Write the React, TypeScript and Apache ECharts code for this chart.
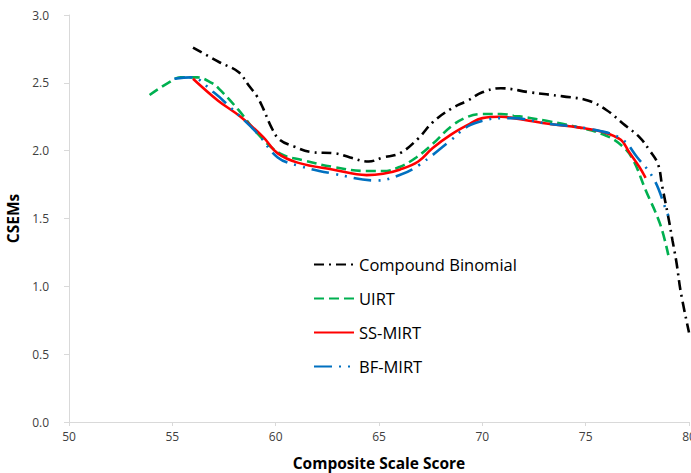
import React, { useEffect, useRef } from "react";
import * as echarts from "echarts";

const seriesNames = ["Compound Binomial", "UIRT", "SS-MIRT", "BF-MIRT"];

const compoundBinomial: [number, number][] = [
  [56.0, 2.76], [56.7, 2.7], [57.3, 2.65], [58.2, 2.58], [58.7, 2.48], [59.1, 2.4],
  [59.4, 2.31], [59.8, 2.17], [60.2, 2.08], [60.9, 2.03], [61.7, 1.99], [62.9, 1.98],
  [63.6, 1.95], [64.5, 1.92], [65.2, 1.95], [66.0, 1.98], [66.9, 2.09], [67.6, 2.21],
  [68.5, 2.31], [69.3, 2.37], [70.0, 2.43], [70.9, 2.46], [72.3, 2.43], [73.9, 2.4],
  [75.1, 2.37], [76.0, 2.3], [76.8, 2.2], [77.6, 2.1], [78.1, 2.0], [78.5, 1.9],
  [78.7, 1.74], [79.0, 1.51], [79.2, 1.34], [79.4, 1.17], [79.6, 0.96], [80.0, 0.66],
];

const uirt: [number, number][] = [
  [53.9, 2.41], [54.8, 2.5], [55.4, 2.54], [56.2, 2.54], [56.9, 2.5], [57.3, 2.45],
  [58.2, 2.3], [59.1, 2.13], [60.2, 1.98], [61.3, 1.93], [62.8, 1.88], [64.4, 1.85],
  [65.2, 1.85], [66.0, 1.88], [66.8, 1.95], [67.6, 2.05], [68.5, 2.18], [69.3, 2.25],
  [70.0, 2.27], [70.9, 2.27], [71.5, 2.26], [73.1, 2.22], [74.7, 2.17], [76.0, 2.11],
  [76.8, 2.03], [77.3, 1.93], [77.9, 1.71], [78.6, 1.46], [79.0, 1.23],
];

const ssMirt: [number, number][] = [
  [56.0, 2.53], [57.2, 2.37], [58.3, 2.25], [59.4, 2.1], [60.1, 1.98], [61.1, 1.91],
  [62.8, 1.86], [64.4, 1.82], [65.2, 1.83], [66.0, 1.86], [66.9, 1.92], [67.6, 2.02],
  [68.5, 2.12], [69.3, 2.19], [70.0, 2.24], [70.9, 2.25], [71.5, 2.24], [73.1, 2.2],
  [74.7, 2.17], [75.8, 2.14], [76.7, 2.08], [77.1, 1.99], [77.6, 1.88], [77.9, 1.8],
];

const bfMirt: [number, number][] = [
  [55.1, 2.53], [55.9, 2.54], [57.0, 2.43], [57.8, 2.32], [59.1, 2.13], [60.1, 1.95],
  [61.1, 1.89], [62.8, 1.83], [64.9, 1.78], [66.0, 1.82], [66.9, 1.89], [68.5, 2.08],
  [69.3, 2.18], [70.0, 2.22], [70.9, 2.24], [71.5, 2.24], [73.1, 2.2], [75.2, 2.16],
  [76.7, 2.09], [77.5, 1.95], [78.3, 1.79], [78.9, 1.56], [79.0, 1.52],
];

const xTicks = { min: 50, max: 80, interval: 5 };
const yTicks = { min: 0, max: 3, interval: 0.5 };

export default function App() {
  const ref = useRef<HTMLDivElement>(null);
  useEffect(() => {
    if (!ref.current) return;
    const chart = echarts.init(ref.current, undefined, { renderer: "svg" });
    const font = "'Open Sans', 'Liberation Sans', sans-serif";
    const lineSeries = (name: string, data: [number, number][], color: string, type: any, width = 2.6) => ({
      name,
      type: "line",
      data,
      smooth: 0.4,
      symbol: "none",
      showSymbol: false,
      itemStyle: { color },
      lineStyle: { color, width, type, cap: "butt" },
    });
    chart.setOption({
      animation: false,
      backgroundColor: "#ffffff",
      grid: { left: 69, right: 2, top: 15, bottom: 51, containLabel: false, outerBoundsMode: "none" },
      legend: {
        orient: "vertical",
        left: 313,
        top: 256,
        padding: 0,
        itemWidth: 40,
        itemHeight: 14,
        itemGap: 17,
        itemStyle: { opacity: 0 },
        textStyle: { fontFamily: font, fontSize: 16.5, color: "#000", padding: [0, 0, 0, 0] },
        data: seriesNames,
      },
      xAxis: {
        type: "value",
        min: xTicks.min,
        max: xTicks.max,
        interval: xTicks.interval,
        name: "Composite Scale Score",
        nameLocation: "middle",
        nameGap: 33,
        nameTextStyle: { fontFamily: font, fontSize: 15.5, fontWeight: "bold", color: "#000" },
        axisLine: { show: true, lineStyle: { color: "#d9d9d9", width: 1 } },
        axisTick: { show: true, length: 4, lineStyle: { color: "#d9d9d9" } },
        axisLabel: { fontFamily: font, fontSize: 12, color: "#404040", margin: 8 },
        splitLine: { show: false },
      },
      yAxis: {
        type: "value",
        min: yTicks.min,
        max: yTicks.max,
        interval: yTicks.interval,
        name: "CSEMs",
        nameLocation: "middle",
        nameGap: 42,
        nameTextStyle: { fontFamily: font, fontSize: 15.5, fontWeight: "bold", color: "#000" },
        axisLine: { show: true, lineStyle: { color: "#d9d9d9", width: 1 } },
        axisTick: { show: true, length: 5, lineStyle: { color: "#d9d9d9" } },
        axisLabel: {
          fontFamily: font,
          fontSize: 12,
          color: "#404040",
          margin: 20,
          formatter: (v: number) => v.toFixed(1),
        },
        splitLine: { show: false },
      },
      series: [
        lineSeries(seriesNames[0], compoundBinomial, "#000000", [10, 5, 2, 5]),
        lineSeries(seriesNames[1], uirt, "#00B050", [10, 5]),
        lineSeries(seriesNames[2], ssMirt, "#FF0000", "solid"),
        lineSeries(seriesNames[3], bfMirt, "#0070C0", [18, 7, 2, 7, 2, 7]),
      ],
    });
    return () => chart.dispose();
  }, []);
  return <div ref={ref} style={{ width: 691, height: 473, position: "absolute", left: 0, top: 0 }} />;
}
